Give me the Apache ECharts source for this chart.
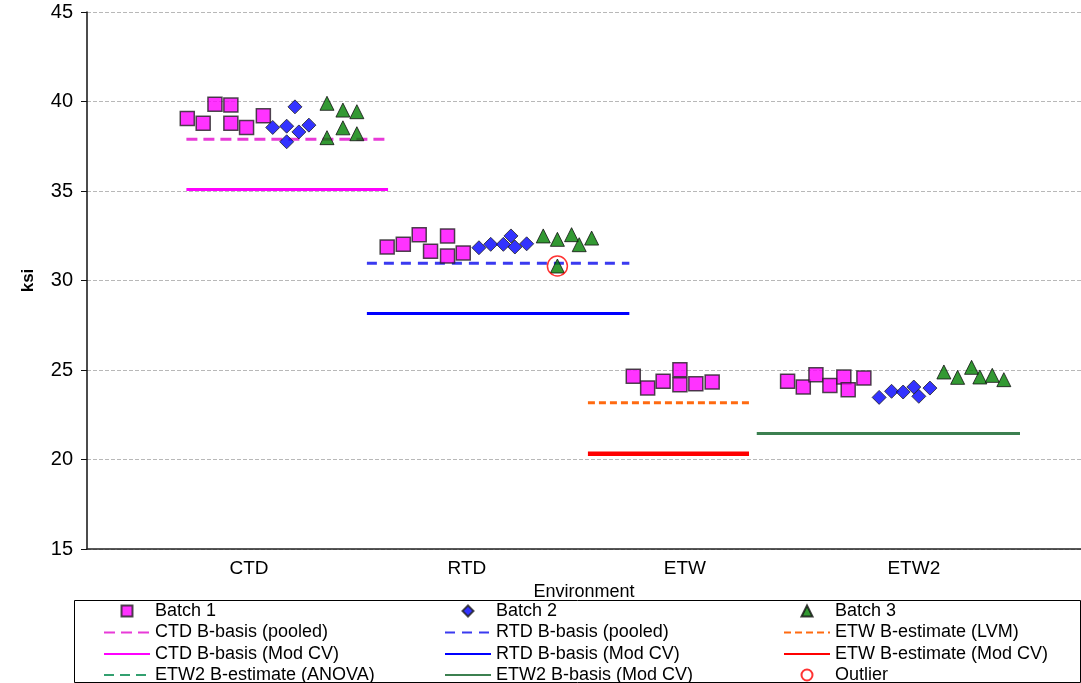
<!DOCTYPE html>
<html>
<head>
<meta charset="utf-8">
<title>ksi by Environment</title>
<script src="https://cdn.jsdelivr.net/npm/echarts@6/dist/echarts.min.js"></script>
<style>
  html, body { margin: 0; padding: 0; background: #fff; }
  #chart { width: 1081px; height: 683px; }
</style>
</head>
<body>
<div id="chart"></div>
<script>
// Environment labels and where they sit along the position axis
const envLabels = ['CTD', 'RTD', 'ETW', 'ETW2'];
const envLabelPos = [1, 2, 3, 4.05];

// Specimen strengths (ksi) as [position, value]
const ctdBatch1 = [[0.717, 39.05], [0.790, 38.78], [0.844, 39.85], [0.917, 39.80], [0.917, 38.78], [0.989, 38.55], [1.066, 39.20]];
const ctdBatch2 = [[1.109, 38.55], [1.173, 38.62], [1.173, 37.75], [1.211, 39.70], [1.229, 38.30], [1.275, 38.68]];
const ctdBatch3 = [[1.358, 39.90], [1.358, 37.98], [1.431, 39.52], [1.431, 38.53], [1.495, 39.43], [1.495, 38.20]];

const rtdBatch1 = [[1.634, 31.87], [1.708, 32.02], [1.781, 32.56], [1.833, 31.63], [1.911, 32.49], [1.911, 31.37], [1.983, 31.54]];
const rtdBatch2 = [[2.055, 31.83], [2.109, 32.02], [2.167, 32.02], [2.202, 32.49], [2.220, 31.87], [2.274, 32.05]];
const rtdBatch3 = [[2.350, 32.49], [2.415, 32.30], [2.415, 30.81], [2.480, 32.56], [2.515, 32.00], [2.572, 32.37]];

const etwBatch1 = [[2.763, 24.65], [2.829, 24.00], [2.900, 24.37], [2.977, 25.02], [2.977, 24.18], [3.050, 24.23], [3.125, 24.33]];

const etw2Batch1 = [[3.471, 24.37], [3.543, 24.05], [3.601, 24.74], [3.665, 24.14], [3.729, 24.61], [3.749, 23.90], [3.821, 24.55]];
const etw2Batch2 = [[3.891, 23.47], [3.948, 23.81], [4.001, 23.77], [4.050, 24.05], [4.073, 23.53], [4.124, 23.99]];
const etw2Batch3 = [[4.188, 24.89], [4.251, 24.59], [4.315, 25.15], [4.353, 24.61], [4.410, 24.70], [4.463, 24.46]];

const outliers = [[2.415, 30.81]];

// Basis values (ksi) and the span of positions each one covers
const ctdSpan = [0.713, 1.638];
const rtdSpan = [1.541, 2.745];
const etwSpan = [2.555, 3.294];
const etw2Span = [3.330, 4.537];
const ctdPooled = 37.89, ctdModCV = 35.09;
const rtdPooled = 30.96, rtdModCV = 28.15;
const etwLVM = 23.17, etwModCV = 20.32;
const etw2ANOVA = 21.45, etw2ModCV = 21.45;

// Axis settings
const yMin = 15, yMax = 45, yStep = 5;
const xMin = 0.257, xMax = 4.817;

// Legend rows, left to right
const legendRows = [
  ['Batch 1', 'Batch 2', 'Batch 3'],
  ['CTD B-basis (pooled)', 'RTD B-basis (pooled)', 'ETW B-estimate (LVM)'],
  ['CTD B-basis (Mod CV)', 'RTD B-basis (Mod CV)', 'ETW B-estimate (Mod CV)'],
  ['ETW2 B-estimate (ANOVA)', 'ETW2 B-basis (Mod CV)', 'Outlier']
];

const FONT = "'Liberation Sans', Arial, sans-serif";

function hline(span, v) { return [[span[0], v], [span[1], v]]; }

const batch1 = [].concat(ctdBatch1, rtdBatch1, etwBatch1, etw2Batch1);
const batch2 = [].concat(ctdBatch2, rtdBatch2, etw2Batch2);
const batch3 = [].concat(ctdBatch3, rtdBatch3, etw2Batch3);

function lineSeries(name, data, color, width, type) {
  return {
    name: name, type: 'line', data: data, symbol: 'none', showSymbol: false,
    silent: true, animation: false, z: 2,
    lineStyle: { color: color, width: width, type: type },
    itemStyle: { color: 'rgba(0,0,0,0)', borderWidth: 0 }
  };
}

const series = [
  lineSeries('CTD B-basis (pooled)', hline(ctdSpan, ctdPooled), '#E83AD8', 3, [11, 6]),
  lineSeries('CTD B-basis (Mod CV)', hline(ctdSpan, ctdModCV), '#FF00FF', 3, 'solid'),
  lineSeries('RTD B-basis (pooled)', hline(rtdSpan, rtdPooled), '#3A3AF0', 3, [10, 7]),
  lineSeries('RTD B-basis (Mod CV)', hline(rtdSpan, rtdModCV), '#0000FF', 3, 'solid'),
  lineSeries('ETW B-estimate (LVM)', hline(etwSpan, etwLVM), '#FF6A10', 3, [7, 4]),
  lineSeries('ETW B-estimate (Mod CV)', hline(etwSpan, etwModCV), '#FF0000', 4.5, 'solid'),
  lineSeries('ETW2 B-estimate (ANOVA)', hline(etw2Span, etw2ANOVA), '#33A070', 3, [10, 6]),
  lineSeries('ETW2 B-basis (Mod CV)', hline(etw2Span, etw2ModCV), '#3C8050', 3, 'solid'),
  {
    name: 'Batch 1', type: 'scatter', data: batch1, symbol: 'rect', symbolSize: 14, z: 3,
    itemStyle: { color: '#FF00FF', borderColor: '#222', borderWidth: 1.5 }
  },
  {
    name: 'Batch 2', type: 'scatter', data: batch2, symbol: 'diamond', symbolSize: 14, z: 3,
    itemStyle: { color: '#0000FF', borderColor: '#222', borderWidth: 1 }
  },
  {
    name: 'Batch 3', type: 'scatter', data: batch3, symbol: 'triangle', symbolSize: 14, z: 3,
    itemStyle: { color: '#008000', borderColor: '#111', borderWidth: 1 }
  },
  {
    name: 'Outlier', type: 'scatter', data: outliers, symbol: 'circle', symbolSize: 20, z: 4,
    itemStyle: { color: 'rgba(0,0,0,0)', borderColor: '#FF0000', borderWidth: 1.5 }
  }
];

// One small legend per cell so the three columns line up exactly
const rowCenters = [611, 632.5, 654, 675];
const colLefts = [103, 444, 783];
const ICON_W = 46, MARK_W = 11;
const lineNames = series.filter(function (s) { return s.type === 'line'; }).map(function (s) { return s.name; });

const legends = [];
legendRows.forEach(function (row, r) {
  row.forEach(function (name, c) {
    const isLine = lineNames.indexOf(name) >= 0;
    legends.push({
      orient: 'horizontal',
      left: isLine ? colLefts[c] : colLefts[c] + (ICON_W - MARK_W) / 2,
      top: rowCenters[r] - 9,
      padding: 0,
      itemWidth: isLine ? ICON_W : MARK_W,
      itemHeight: 11,
      selectedMode: false,
      data: [isLine ? { name: name, itemStyle: { opacity: 0 } } : name],
      textStyle: {
        fontFamily: FONT, fontSize: 18, color: '#000', lineHeight: 18,
        padding: isLine ? 0 : [0, 0, 0, (ICON_W - MARK_W) / 2]
      }
    });
  });
});

const option = {
  backgroundColor: '#fff',
  animation: false,
  grid: { left: 87, right: 0, top: 12, bottom: 134, containLabel: false },
  xAxis: {
    type: 'value', min: xMin, max: xMax,
    name: 'Environment', nameLocation: 'middle', nameGap: 32,
    nameTextStyle: { fontFamily: FONT, fontSize: 18, color: '#000' },
    axisLine: { show: true, onZero: false, lineStyle: { color: '#222', width: 1.5 } },
    axisTick: { show: false },
    splitLine: { show: false },
    axisLabel: {
      customValues: envLabelPos,
      margin: 10,
      fontFamily: FONT, fontSize: 19, color: '#000',
      formatter: function (v) {
        const i = envLabelPos.findIndex(function (p) { return Math.abs(p - v) < 1e-6; });
        return i >= 0 ? envLabels[i] : '';
      }
    }
  },
  yAxis: {
    type: 'value', min: yMin, max: yMax, interval: yStep,
    name: 'ksi', nameLocation: 'middle', nameGap: 50, nameRotate: 90,
    nameTextStyle: { fontFamily: FONT, fontSize: 17, fontWeight: 'bold', color: '#000' },
    axisLine: { show: true, lineStyle: { color: '#111', width: 1.5 } },
    axisTick: { show: true, inside: false, length: 6, lineStyle: { color: '#111' } },
    axisLabel: { margin: 14, fontFamily: FONT, fontSize: 20, color: '#000' },
    splitLine: { show: true, lineStyle: { color: '#b8b8b8', type: [4, 2], width: 1 } }
  },
  legend: legends,
  graphic: [{
    type: 'rect', silent: true, z: -1,
    shape: { x: 74.5, y: 600.5, width: 1006, height: 82 },
    style: { fill: 'none', stroke: '#000', lineWidth: 1 }
  }],
  series: series
};

const chart = echarts.init(document.getElementById('chart'), null, { renderer: 'canvas' });
chart.setOption(option);
</script>
</body>
</html>
